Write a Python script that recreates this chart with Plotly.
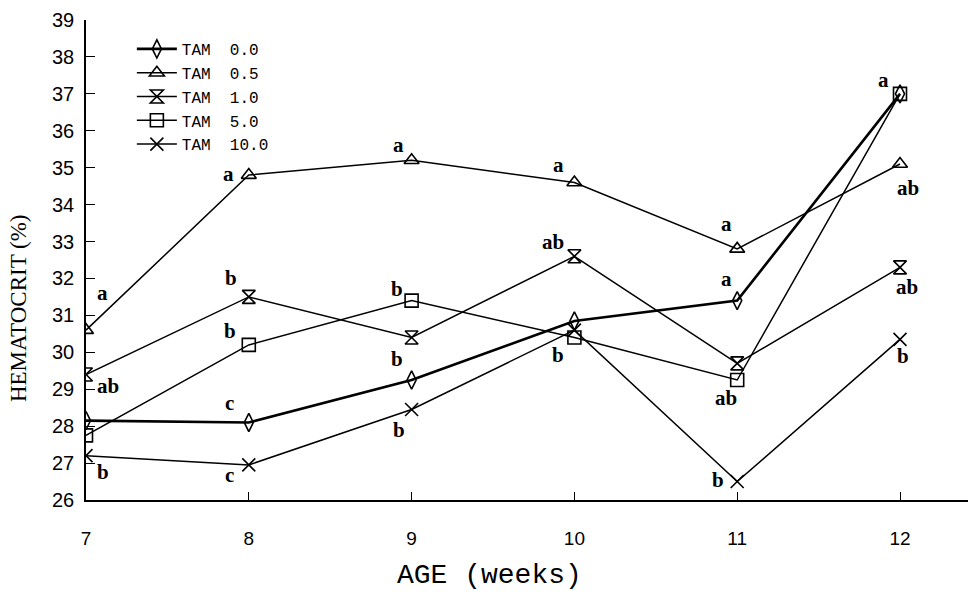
import plotly.graph_objects as go

weeks = [7, 8, 9, 10, 11, 12]
series_names = ["TAM  0.0", "TAM  0.5", "TAM  1.0", "TAM  5.0", "TAM  10.0"]
tam_00 = [28.15, 28.1, 29.25, 30.85, 31.4, 37.0]
tam_05 = [30.6, 34.8, 35.2, 34.6, 32.8, 35.1]
tam_10 = [29.4, 31.5, 30.4, 32.6, 29.7, 32.3]
tam_50 = [27.75, 30.2, 31.4, 30.4, 29.25, 37.0]
tam_100 = [27.2, 26.95, 28.45, 30.6, 26.5, 30.35]

letters_00 = [None, "c", None, None, "a", "a"]
letters_05 = ["a", "a", "a", "a", "a", "ab"]
letters_10 = ["ab", "b", "b", "ab", None, "ab"]
letters_50 = [None, "b", "b", "b", "ab", None]
letters_100 = ["b", "c", "b", None, "b", "b"]

y_ticks = list(range(26, 40))

# styling
symbols = ["diamond-tall-open", "triangle-up-open", "hourglass-open", "square-open", "x-thin-open"]
widths = [2.6, 1.5, 1.5, 1.5, 1.5]
# pixel offsets (dx, dy-down) for the significance letters
offsets = [
    [None, (-19, -19), None, None, (-11, -22), (-17, -14)],
    [(16, -37), (-20, -1), (-13, -15), (-16, -17), (-11, -25), (8, 24)],
    [(22, 12), (-18, -19), (-15, 21), (-21, -14), None, (7, 20)],
    [None, (-19, -14), (-15, -12), (-16, 17), (-11, 18), None],
    [(17, 16), (-19, 10), (-13, 20), None, (-19, -2), (3, 17)],
]

all_vals = [tam_00, tam_05, tam_10, tam_50, tam_100]
all_letters = [letters_00, letters_05, letters_10, letters_50, letters_100]

fig = go.Figure()
for name, vals, sym, w in zip(series_names, all_vals, symbols, widths):
    fig.add_trace(go.Scatter(
        x=weeks, y=vals, name=name, mode="lines+markers",
        line=dict(color="black", width=w),
        marker=dict(symbol=sym, size=13, color="black",
                    line=dict(color="black", width=1.6)),
    ))

annotations = []
for vals, lets, offs in zip(all_vals, all_letters, offsets):
    for wk, v, t, o in zip(weeks, vals, lets, offs):
        if t is None:
            continue
        annotations.append(dict(
            x=wk, y=v, xref="x", yref="y", text="<b>" + t + "</b>", showarrow=False,
            xanchor="center", yanchor="middle", xshift=o[0], yshift=-o[1],
            font=dict(family="Liberation Serif", size=21, color="black"),
        ))

annotations.append(dict(
    x=-0.077, y=0.40, xref="paper", yref="paper", text="HEMATOCRIT (%)",
    textangle=-90, showarrow=False, xanchor="center", yanchor="middle",
    font=dict(family="Liberation Serif", size=23, color="black"),
))
annotations.append(dict(
    x=0.458, y=-0.158, xref="paper", yref="paper", text="AGE (weeks)",
    showarrow=False, xanchor="center", yanchor="middle",
    font=dict(family="Liberation Mono", size=28, color="black"),
))

fig.update_layout(
    width=968, height=599,
    margin=dict(l=86, r=0, t=20, b=99),
    paper_bgcolor="white", plot_bgcolor="white",
    showlegend=True,
    legend=dict(x=0.052, y=0.975, xanchor="left", yanchor="top",
                bgcolor="rgba(0,0,0,0)",
                font=dict(family="Liberation Mono", size=16, color="black"),
                itemwidth=40, tracegroupgap=0),
    annotations=annotations,
    font=dict(family="Liberation Sans", color="black"),
)
fig.update_xaxes(
    range=[7, 7 + (968 - 86) / 162.8], tickmode="array", tickvals=weeks,
    ticktext=[str(w) for w in weeks],
    showline=True, linecolor="black", linewidth=1.5,
    ticks="inside", ticklen=8, tickcolor="black", tickwidth=1.2,
    showgrid=False, zeroline=False, ticklabelstandoff=20,
    tickfont=dict(family="Liberation Sans", size=19, color="black"),
)
fig.update_yaxes(
    range=[26, 39], tickmode="array", tickvals=y_ticks,
    showline=True, linecolor="black", linewidth=1.5,
    ticks="inside", ticklen=9, tickcolor="black", tickwidth=1.2,
    showgrid=False, zeroline=False, ticklabelstandoff=6,
    tickfont=dict(family="Liberation Sans", size=20, color="black"),
)

fig.write_html("out.html")
